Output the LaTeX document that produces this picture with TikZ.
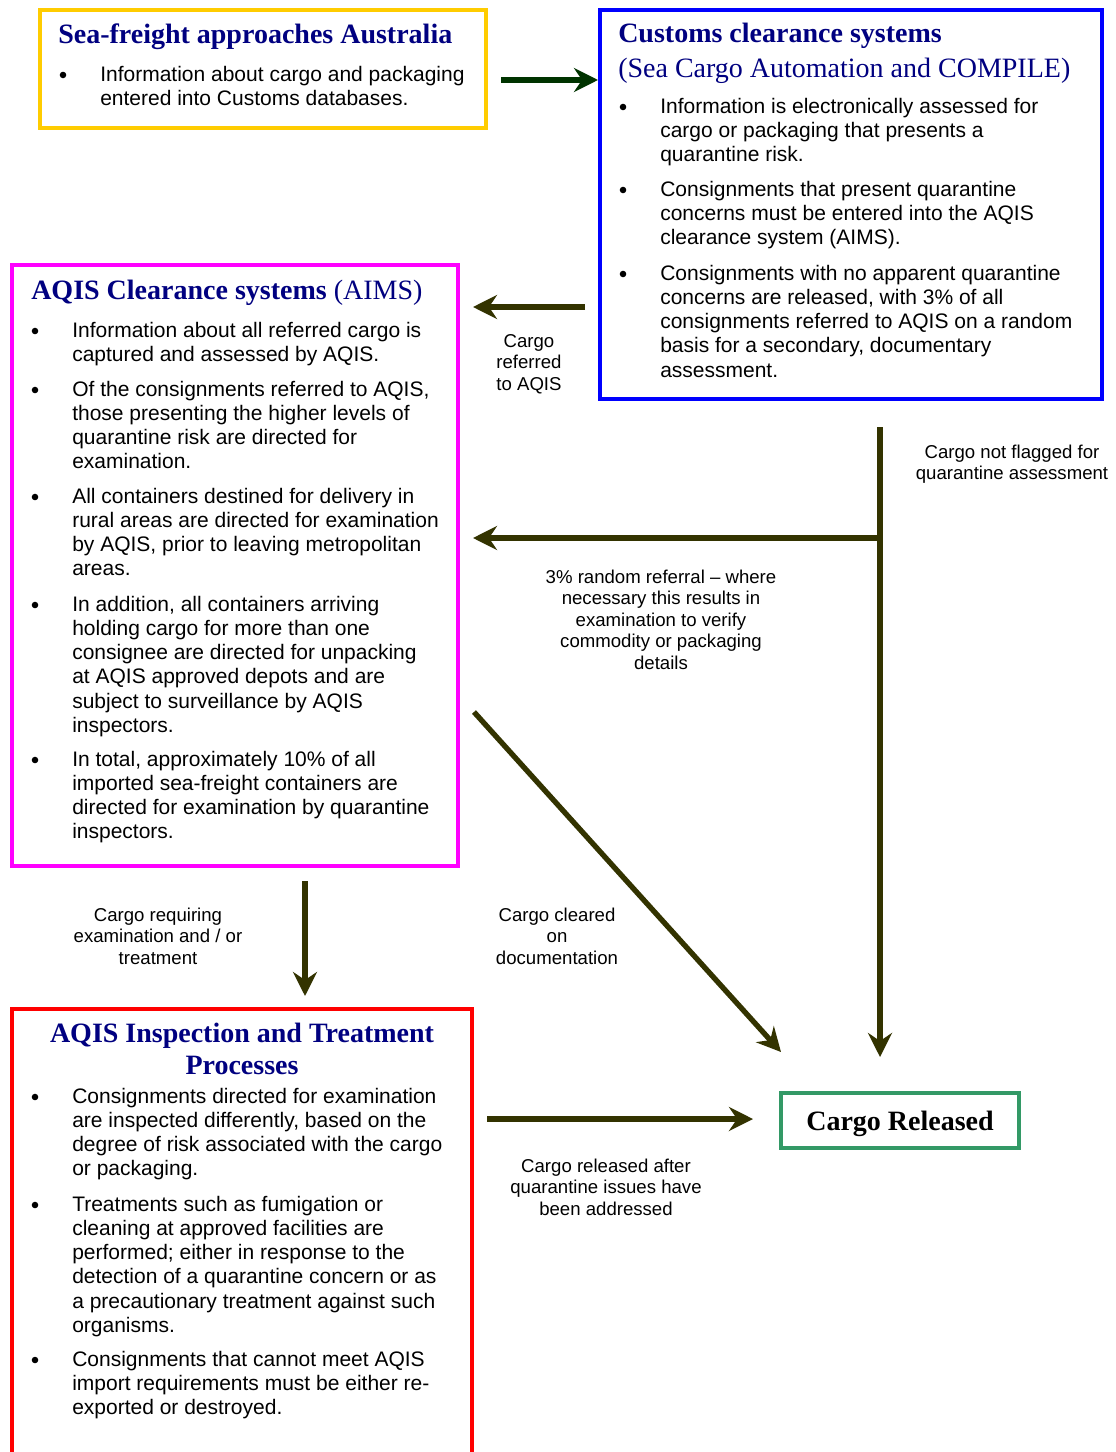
\documentclass[tikz,border=0pt]{standalone}
\usepackage{fontspec}
\setmainfont{Liberation Serif}
\setsansfont{Liberation Sans}
\usetikzlibrary{arrows.meta}
\definecolor{cyel}{HTML}{FFCC00}
\definecolor{cblu}{HTML}{0000FF}
\definecolor{cmag}{HTML}{FF00FF}
\definecolor{cred}{HTML}{FF0000}
\definecolor{cgrn}{HTML}{339966}
\definecolor{cnavy}{HTML}{000080}
\definecolor{colive}{HTML}{333300}
\definecolor{cdkgrn}{HTML}{003300}
\newcommand\bitem[4]{%
  \node[bulsty] (#1b) at ({#2-37},{#3-6}) {};
  \node[bodysty] (#1) at ({#2},{#3-21.333}) {\rule{0pt}{16pt}#4};}
\newcommand\lbl[4]{%
  \node[lblsty] (#1) at ({#2},{#3-18.667}) {\rule{0pt}{14pt}#4};}
\begin{document}
\begin{tikzpicture}[x=0.75pt,y=-0.75pt,
  boxsty/.style={draw, line width=3pt, inner sep=0, fill=none},
  bulsty/.style={circle, fill=black, inner sep=0, minimum size=4.9pt},
  bodysty/.style={font=\sffamily\fontsize{15.75}{18.15}\selectfont, anchor=north west, align=left, inner sep=0},
  lblsty/.style={font=\sffamily\fontsize{13.95}{16.1}\selectfont, anchor=north, align=center, inner sep=0},
  ttlsty/.style={font=\rmfamily\bfseries\fontsize{21}{24}\selectfont, text=cnavy, inner sep=0, anchor=base west},
  arr/.style={line width=4pt, draw=colive, -{Stealth[length=18pt,width=18pt,inset=6pt]}},
]
\useasboundingbox (0,0) rectangle (1115,1452);
\clip (0,0) rectangle (1115,1452);
\fill[white] (0,0) rectangle (1115,1452);

% boxes
\node[boxsty, draw=cyel, minimum width=334.5pt, minimum height=88.5pt] (sea) at (263,69) {};
\node[boxsty, draw=cblu, minimum width=376.5pt, minimum height=291.75pt] (cus) at (851,204.5) {};
\node[boxsty, draw=cmag, minimum width=334.5pt, minimum height=450.75pt] (aims) at (235,565.5) {};
\node[boxsty, draw=cred, minimum width=345pt, minimum height=353.25pt] (insp) at (242,1244.5) {};
\node[boxsty, draw=cgrn, minimum width=178.5pt, minimum height=41.25pt] (rel) at (900,1120.5) {};

% titles
\node[ttlsty] (seat) at (58,44) {Sea-freight approaches Australia};
\node[ttlsty] (cust) at (618,43) {Customs clearance systems};
\node[ttlsty, font=\rmfamily\fontsize{21}{24}\selectfont] (cust2) at (618,78) {(Sea Cargo Automation and COMPILE)};
\node[ttlsty, font=\rmfamily\fontsize{21}{24}\selectfont] (aimst) at (31,299) {\textbf{AQIS Clearance systems} (AIMS)};
\node[ttlsty, anchor=base] (inspt) at (242,1042) {AQIS Inspection and Treatment};
\node[ttlsty, anchor=base] (inspt2) at (242,1074) {Processes};
\node[ttlsty, anchor=base, text=black] (relt) at (900,1130) {Cargo Released};

% bullets
\bitem{s1}{100}{81}{Information about cargo and packaging\\entered into Customs databases.}
\bitem{c1}{660}{113}{Information is electronically assessed for\\cargo or packaging that presents a\\quarantine risk.}
\bitem{c2}{660}{196}{Consignments that present quarantine\\concerns must be entered into the AQIS\\clearance system (AIMS).}
\bitem{c3}{660}{280}{Consignments with no apparent quarantine\\concerns are released, with 3\% of all\\consignments referred to AQIS on a random\\basis for a secondary, documentary\\assessment.}
\bitem{m1}{72}{337}{Information about all referred cargo is\\captured and assessed by AQIS.}
\bitem{m2}{72}{396}{Of the consignments referred to AQIS,\\those presenting the higher levels of\\quarantine risk are directed for\\examination.}
\bitem{m3}{72}{503}{All containers destined for delivery in\\rural areas are directed for examination\\by AQIS, prior to leaving metropolitan\\areas.}
\bitem{m4}{72}{611}{In addition, all containers arriving\\holding cargo for more than one\\consignee are directed for unpacking\\at AQIS approved depots and are\\subject to surveillance by AQIS\\inspectors.}
\bitem{m5}{72}{766}{In total, approximately 10\% of all\\imported sea-freight containers are\\directed for examination by quarantine\\inspectors.}
\bitem{r1}{72}{1103}{Consignments directed for examination\\are inspected differently, based on the\\degree of risk associated with the cargo\\or packaging.}
\bitem{r2}{72}{1211}{Treatments such as fumigation or\\cleaning at approved facilities are\\performed; either in response to the\\detection of a quarantine concern or as\\a precautionary treatment against such\\organisms.}
\bitem{r3}{72}{1366}{Consignments that cannot meet AQIS\\import requirements must be either re-\\exported or destroyed.}

% labels
\lbl{l1}{529}{347}{Cargo\\referred\\to AQIS}
\lbl{l2}{1012}{458}{Cargo not flagged for\\quarantine assessment}
\lbl{l3}{661}{583}{3\% random referral -- where\\necessary this results in\\examination to verify\\commodity or packaging\\details}
\lbl{l4}{158}{921}{Cargo requiring\\examination and / or\\treatment}
\lbl{l5}{557}{921}{Cargo cleared\\on\\documentation}
\lbl{l6}{606}{1172}{Cargo released after\\quarantine issues have\\been addressed}

% connector coordinates
\coordinate (a1s) at (501,80);
\coordinate (a1e) at (598,80);
\coordinate (a2s) at (585,307);
\coordinate (a2e) at (473,307);
\coordinate (a3s) at (880,427);
\coordinate (a3e) at (880,1057);
\coordinate (a4s) at (880,538);
\coordinate (a4e) at (473,538);
\coordinate (a5s) at (474,712);
\coordinate (a5e) at (781,1052);
\coordinate (a6s) at (305,881);
\coordinate (a6e) at (305,996);
\coordinate (a7s) at (487,1119);
\coordinate (a7e) at (753,1119);

\draw[arr, draw=cdkgrn, fill=cdkgrn] (a1s) -- (a1e);
\draw[arr] (a2s) -- (a2e);
\draw[arr] (a3s) -- (a3e);
\draw[arr] (a4s) -- (a4e);
\draw[arr] (a5s) -- (a5e);
\draw[arr] (a6s) -- (a6e);
\draw[arr] (a7s) -- (a7e);
\end{tikzpicture}
\end{document}
